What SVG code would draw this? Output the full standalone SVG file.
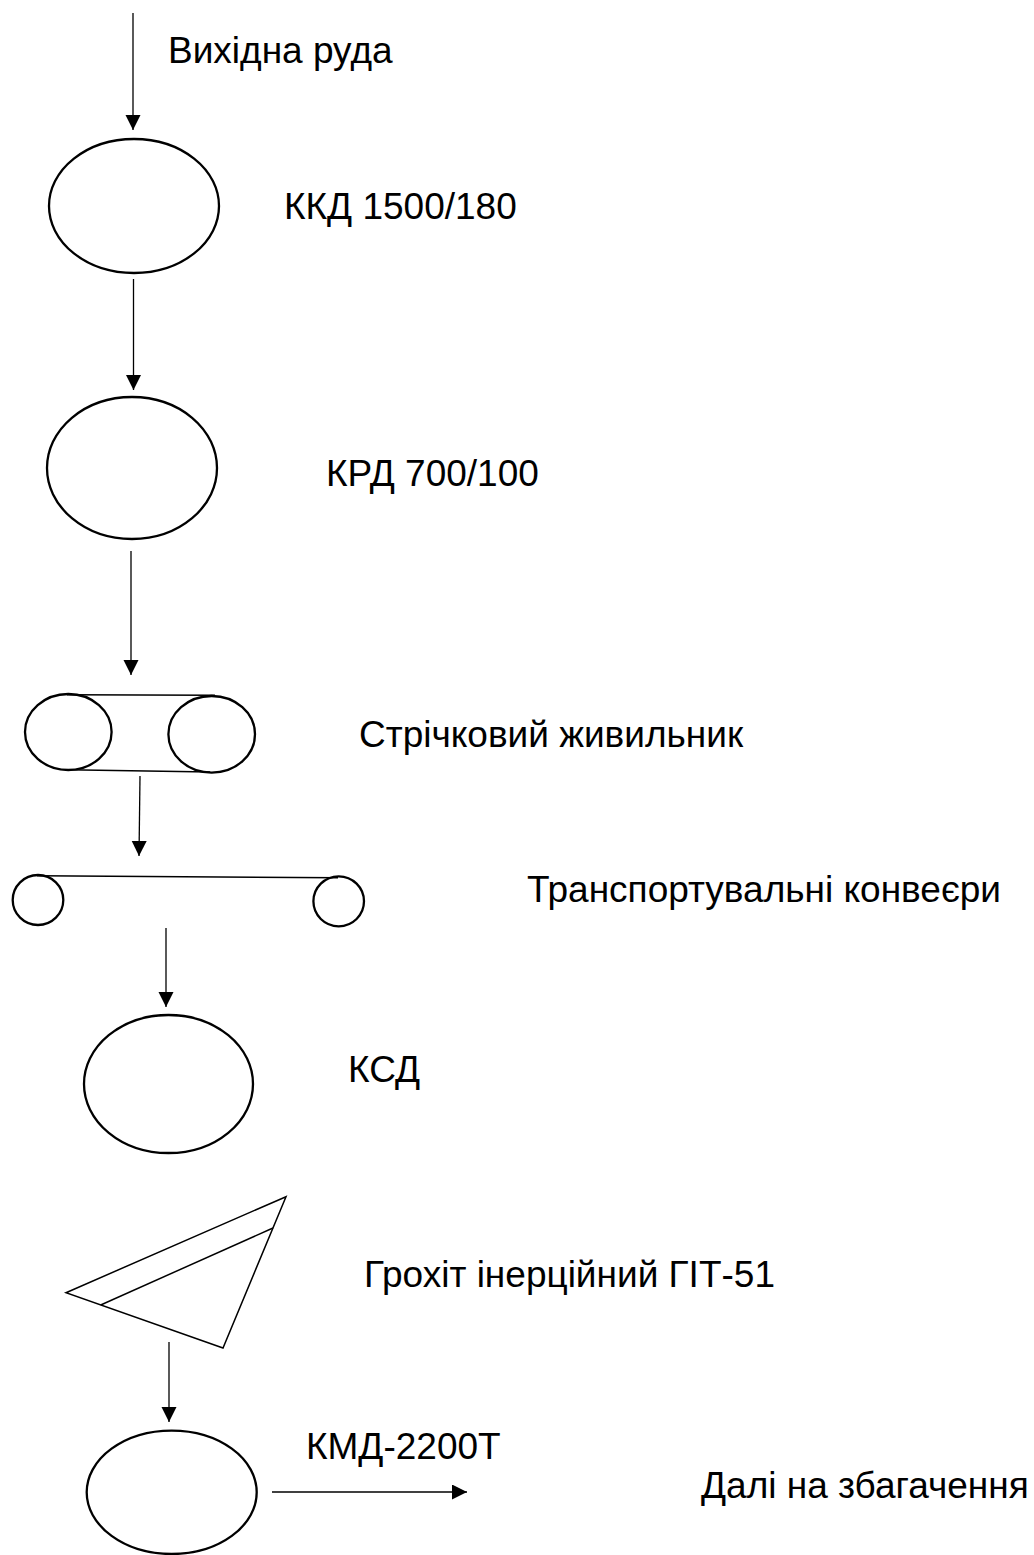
<svg xmlns="http://www.w3.org/2000/svg" width="1034" height="1555" viewBox="0 0 1034 1555">
<defs>
<marker id="ah" markerWidth="16" markerHeight="16" refX="15" refY="7.5" orient="auto" markerUnits="userSpaceOnUse"><path d="M0,0 L15,7.5 L0,15 Z" fill="#000"/></marker>
</defs>
<style>
.lbl{font-family:"Liberation Sans",Arial,sans-serif;font-size:37px;fill:#000}
.eq{fill:none;stroke:#000;stroke-width:2.3}
.ln{fill:none;stroke:#000;stroke-width:1.5}
.conn{fill:none;stroke:#000;stroke-width:1.3;marker-end:url(#ah)}
</style>
<rect width="1034" height="1555" fill="#fff"/>
<g id="connectors">
<path class="conn" d="M133,13 L133,130"/>
<path class="conn" d="M133.5,279 L133.5,390"/>
<path class="conn" d="M131,551 L131,675"/>
<path class="conn" d="M140,776 L139,856"/>
<path class="conn" d="M166,928 L166,1007"/>
<path class="conn" d="M169,1342 L169,1422"/>
<path class="conn" d="M272,1492 L467,1492"/>
</g>
<g id="input"><text class="lbl" x="168" y="63">Вихідна руда</text></g>
<g id="kkd">
<ellipse class="eq" cx="134" cy="206" rx="85" ry="67"/>
<text class="lbl" x="284" y="219">ККД 1500/180</text>
</g>
<g id="krd">
<ellipse class="eq" cx="132" cy="468" rx="85" ry="71"/>
<text class="lbl" x="326" y="486">КРД 700/100</text>
</g>
<g id="feeder">
<ellipse class="eq" cx="68.3" cy="732" rx="43.3" ry="38"/>
<ellipse class="eq" cx="211.7" cy="734.3" rx="43.3" ry="38.3"/>
<line class="ln" x1="67" y1="694.7" x2="215" y2="695.3"/>
<line class="ln" x1="67" y1="769.8" x2="210" y2="772"/>
<text class="lbl" x="359" y="747">Стрічковий живильник</text>
</g>
<g id="conveyor">
<ellipse class="eq" cx="38" cy="900" rx="25.3" ry="25"/>
<ellipse class="eq" cx="338.7" cy="901.3" rx="25.3" ry="25"/>
<line class="ln" x1="37" y1="875.7" x2="338" y2="877.7"/>
<text class="lbl" x="527" y="902">Транспортувальні конвеєри</text>
</g>
<g id="ksd">
<ellipse class="eq" cx="168.5" cy="1084" rx="84.5" ry="69"/>
<text class="lbl" x="348" y="1082">КСД</text>
</g>
<g id="screen">
<polygon class="ln" points="286,1196.7 66,1292.7 223,1348"/>
<line class="ln" x1="100.7" y1="1305" x2="273" y2="1228"/>
<text class="lbl" x="364" y="1287">Грохіт інерційний ГІТ-51</text>
</g>
<g id="kmd">
<ellipse class="eq" cx="171.7" cy="1492.3" rx="85" ry="61.7"/>
<text class="lbl" x="306" y="1459">КМД-2200Т</text>
</g>
<g id="output"><text class="lbl" x="701" y="1498">Далі на збагачення</text></g>
</svg>
